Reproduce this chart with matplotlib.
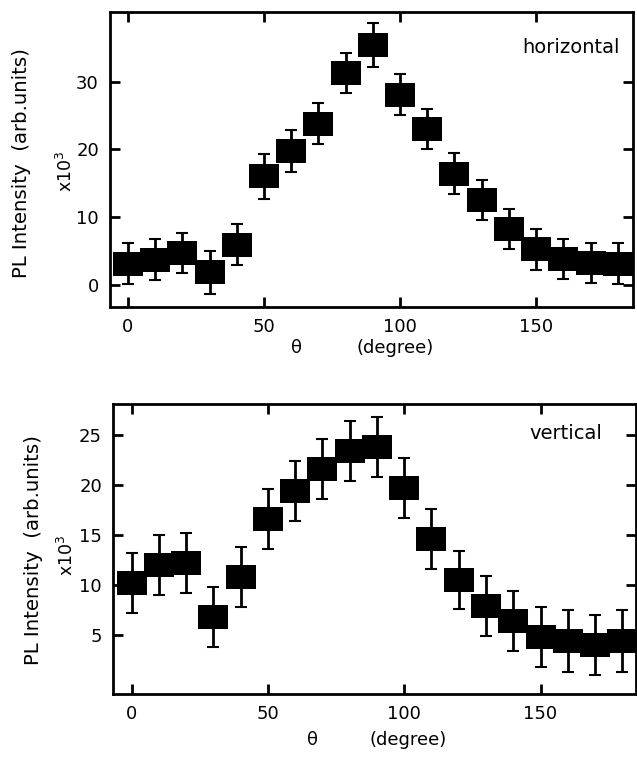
import matplotlib
matplotlib.use("Agg")
import matplotlib.pyplot as plt
import numpy as np

plt.rcParams['font.family'] = ['DejaVu Sans']

angles = [0, 10, 20, 30, 40, 50, 60, 70, 80, 90, 100, 110, 120, 130, 140, 150, 160, 170, 180]

horiz_vals = [3.1, 3.7, 4.7, 1.8, 5.9, 16.0, 19.7, 23.8, 31.3, 35.4, 28.1, 23.0, 16.4, 12.5, 8.2, 5.2, 3.8, 3.2, 3.1]
horiz_err = [3.0, 3.0, 3.0, 3.2, 3.0, 3.3, 3.1, 3.0, 3.0, 3.2, 3.0, 3.0, 3.0, 3.0, 3.0, 3.0, 3.0, 3.0, 3.0]

vert_vals = [10.2, 12.0, 12.2, 6.8, 10.8, 16.6, 19.4, 21.6, 23.4, 23.8, 19.7, 14.6, 10.5, 7.9, 6.4, 4.8, 4.4, 4.0, 4.4]
vert_err = [3.0, 3.0, 3.0, 3.0, 3.0, 3.0, 3.0, 3.0, 3.0, 3.0, 3.0, 3.0, 2.9, 3.0, 3.0, 3.0, 3.1, 3.0, 3.1]

x_ticks = [0, 50, 100, 150]
horiz_yticks = [0, 10, 20, 30]
vert_yticks = [5, 10, 15, 20, 25]

fig = plt.figure(figsize=(6.37, 7.58), dpi=100)

rect_marker = [(-1, -0.82), (1, -0.82), (1, 0.82), (-1, 0.82), (-1, -0.82)]

def style_axes(ax, yticks, xlim, ylim):
    ax.set_xlim(*xlim)
    ax.set_ylim(*ylim)
    ax.set_xticks(x_ticks)
    ax.set_xticklabels(['0', '50', '100', '150'])
    ax.set_yticks(yticks)
    ax.tick_params(direction='in', top=True, right=True, length=7, width=2,
                   labelsize=13, pad=8)
    for s in ax.spines.values():
        s.set_linewidth(2)

def draw(ax, vals, errs):
    ax.errorbar(angles, vals, yerr=errs, fmt='none', ecolor='black',
                elinewidth=2, capsize=4, capthick=1.5, zorder=2)
    ax.plot(angles, vals, linestyle='none', marker=rect_marker,
            markersize=21.5, color='black', markeredgewidth=0, zorder=3)

ax1 = fig.add_axes([0.1727, 0.5950, 0.9937 - 0.1727, 0.9842 - 0.5950])
draw(ax1, horiz_vals, horiz_err)
style_axes(ax1, horiz_yticks, (-6.6, 185.6), (-3.3, 40.3))
ax1.text(0.975, 0.88, 'horizontal', transform=ax1.transAxes, ha='right', va='center', fontsize=14)

ax2 = fig.add_axes([0.1774, 0.0844, 0.9984 - 0.1774, 0.4670 - 0.0844])
draw(ax2, vert_vals, vert_err)
style_axes(ax2, vert_yticks, (-6.8, 185.0), (-0.9, 28.1))
ax2.text(0.935, 0.90, 'vertical', transform=ax2.transAxes, ha='right', va='center', fontsize=14)

# labels
fig.text(22 / 637, 1 - 163 / 758, 'PL Intensity  (arb.units)', rotation=90,
         ha='center', va='center', fontsize=14.2)
fig.text(66 / 637, 1 - 171 / 758, 'x10$^3$', rotation=90, ha='center', va='center', fontsize=12.5)
fig.text(296 / 637, 1 - 348 / 758, 'θ', ha='center', va='center', fontsize=13)
fig.text(395 / 637, 1 - 348 / 758, '(degree)', ha='center', va='center', fontsize=13)

fig.text(34 / 637, 1 - 550 / 758, 'PL Intensity  (arb.units)', rotation=90,
         ha='center', va='center', fontsize=14.2)
fig.text(67 / 637, 1 - 555 / 758, 'x10$^3$', rotation=90, ha='center', va='center', fontsize=12.5)
fig.text(312 / 637, 1 - 740 / 758, 'θ', ha='center', va='center', fontsize=13)
fig.text(408 / 637, 1 - 740 / 758, '(degree)', ha='center', va='center', fontsize=13)

fig.savefig('out.png', dpi=100)
